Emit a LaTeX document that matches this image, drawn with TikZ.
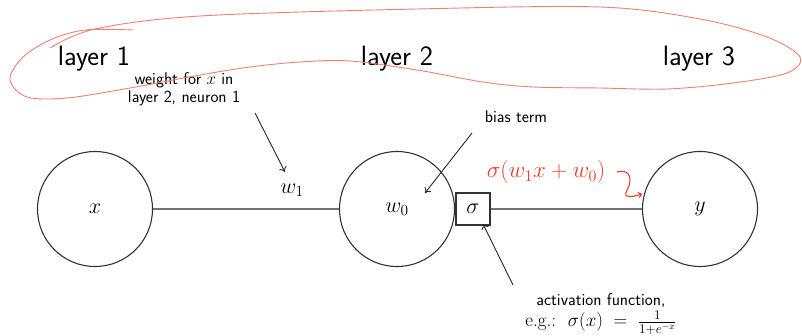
\RequirePackage{fix-cm}
\documentclass[tikz,border=0pt]{standalone}
\usetikzlibrary{arrows.meta}
\definecolor{pen}{RGB}{232,62,42}
\definecolor{loopc}{RGB}{240,128,112}
\tikzset{
  neuron/.style={circle, draw=black!80, line width=1.1pt, minimum size=115pt, inner sep=0pt, font=\fontsize{22}{24}\selectfont},
  sigbox/.style={draw=black!80, line width=1.1pt, minimum width=34pt, minimum height=32pt, inner sep=0pt, font=\fontsize{22}{24}\selectfont},
  conn/.style={draw=black!55, line width=1.5pt},
  layerlab/.style={font=\sffamily\fontsize{28}{30}\selectfont, anchor=base, inner sep=0pt},
  note/.style={font=\sffamily\fontsize{17}{18}\selectfont, align=center, inner sep=0pt},
  pointer/.style={draw=black!85, line width=0.9pt, -{To[length=5pt,width=8pt]}},
  penarrow/.style={draw=pen, line width=1.1pt, line cap=round, -{To[length=4pt,width=6pt]}},
  penloop/.style={draw=loopc, line width=0.9pt, line cap=round}
}
\begin{document}
\begin{tikzpicture}[x=1pt,y=-1pt]
\useasboundingbox (0,0) rectangle (802,335);
% neurons
\node[neuron] (x) at (95,209) {$x$};
\node[neuron] (w0) at (397,209) {$w_0$};
\node[neuron] (y) at (700,209) {$y$};
\node[sigbox] (s) at (473,209) {$\sigma$};
\draw[conn] (x) -- (w0);
\draw[conn] (s) -- (y);
\node[font=\fontsize{22}{24}\selectfont, inner sep=0pt] (w1) at (292,190) {$w_1$};
% layer labels
\node[layerlab] (l1) at (94,65) {layer 1};
\node[layerlab] (l2) at (397,65) {layer 2};
\node[layerlab] (l3) at (699,65) {layer 3};
% notes
\node[note] (wn) at (184,89) {weight for $x$ in\\layer 2, neuron 1};
\node[note] (bn) at (516,117) {bias term};
\node[note] (an) at (601,314) {activation function,\\[2pt]{\fontsize{19}{20}\selectfont{\rmfamily e.g.:}\ \ $\sigma(x) \;=\; \frac{1}{1+e^{-x}}$}};
% pointers
\coordinate (wa) at (255,113);
\coordinate (wb) at (285,172);
\coordinate (ba) at (472,133);
\coordinate (bb) at (425,193);
\coordinate (aa) at (513,285);
\coordinate (ab) at (483,224);
\draw[pointer] (wa) -- (wb);
\draw[pointer] (ba) -- (bb);
\draw[pointer] (aa) -- (ab);
% red annotations
\draw[penloop] plot[smooth, tension=0.55] coordinates {
 (50,48) (95,29) (200,16) (417,9) (600,7) (700,19) (767,37) (800,57) (787,73)
 (733,83) (667,89) (600,88) (533,87) (483,82) (417,70) (350,61) (300,62)
 (250,67) (200,75) (130,88) (67,98) (27,97) (10,80) (22,58) (50,40) (85,30) (133,30)};
\node[text=pen, font=\fontsize{23}{25}\selectfont, inner sep=0pt] (sg) at (546,172) {$\sigma(w_1x+w_0)$};
\coordinate (sq) at (617,172);
\coordinate (sqe) at (642,194);
\draw[penarrow] (sq) .. controls (632,168) and (632,182) .. (627,190) .. controls (622,199) and (632,197) .. (sqe);
\end{tikzpicture}
\end{document}
